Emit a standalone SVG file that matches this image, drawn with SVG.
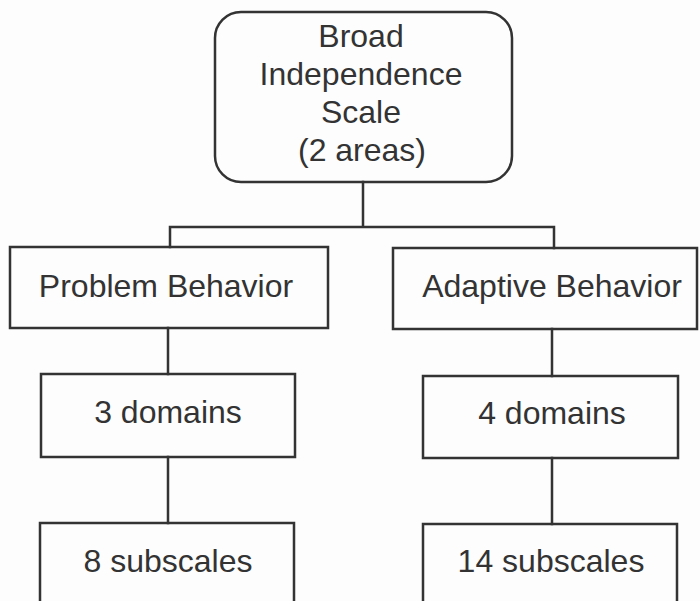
<svg xmlns="http://www.w3.org/2000/svg" width="700" height="601" viewBox="0 0 700 601">
  <style>
    .box { fill: none; stroke: #333; stroke-width: 2.5; }
    .wire { fill: none; stroke: #333; stroke-width: 2.5; stroke-linecap: square; }
    .label { font-family: "Liberation Sans", Arial, sans-serif; font-size: 32px; fill: #333; text-anchor: middle; }
  </style>
  <rect width="700" height="601" fill="#fdfdfd"/>

  <g id="connectors">
    <path class="wire" d="M363 182 V227 M170 227 H554 M170 227 V247 M554 227 V248"/>
    <path class="wire" d="M168 328 V374 M552 329 V376"/>
    <path class="wire" d="M168 457 V523 M552 458 V524"/>
  </g>

  <g id="broad-independence">
    <rect class="box" x="215" y="12" width="297" height="170" rx="26" ry="26"/>
    <text class="label" x="361" y="47">Broad</text>
    <text class="label" x="361" y="85">Independence</text>
    <text class="label" x="361" y="123">Scale</text>
    <text class="label" x="362" y="161">(2 areas)</text>
  </g>

  <g id="problem-behavior">
    <rect class="box" x="10" y="247" width="318" height="81"/>
    <text class="label" x="166" y="297">Problem Behavior</text>
  </g>

  <g id="adaptive-behavior">
    <rect class="box" x="393" y="248" width="304" height="81"/>
    <text class="label" x="552" y="297">Adaptive Behavior</text>
  </g>

  <g id="problem-domains">
    <rect class="box" x="41" y="374" width="254" height="83"/>
    <text class="label" x="168" y="423">3 domains</text>
  </g>

  <g id="adaptive-domains">
    <rect class="box" x="423" y="376" width="255" height="82"/>
    <text class="label" x="552" y="424">4 domains</text>
  </g>

  <g id="problem-subscales">
    <path class="box" d="M40 610 V523 H294 V610"/>
    <text class="label" x="168" y="572">8 subscales</text>
  </g>

  <g id="adaptive-subscales">
    <path class="box" d="M423 610 V524 H677 V610"/>
    <text class="label" x="551" y="572">14 subscales</text>
  </g>
</svg>
